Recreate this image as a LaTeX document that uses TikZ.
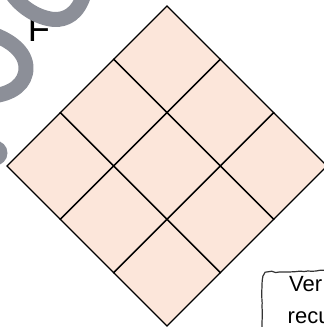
\documentclass[tikz,border=0pt]{standalone}
\usepackage{fontspec}
\setmainfont{Liberation Sans}
\usetikzlibrary{decorations.pathmorphing}
\definecolor{peach}{RGB}{252,230,218}
\definecolor{scribblegray}{RGB}{140,143,152}
\begin{document}
\begin{tikzpicture}[x=1pt,y=-1pt,
  cell/.style={fill=peach,draw=black,line width=1.4pt,line join=miter},
  scribble/.style={draw=scribblegray,line width=15pt,line cap=round,line join=round},
  sketchbox/.style={draw=black!80,line width=1.2pt,decorate,decoration={random steps,segment length=4pt,amplitude=0.4pt}},
  boxtext/.style={font=\fontsize{22}{26}\selectfont,inner sep=0pt,anchor=base west}]
\useasboundingbox (0,0) rectangle (324,327);
\clip (0,0) rectangle (324,327);
% grid of diamond cells
\foreach \i in {0,1,2}{
  \foreach \j in {0,1,2}{
    \path[cell,shift={({167+(\j-\i)*53.333},{6+(\i+\j)*53.333})}]
      (0,0) -- (-53.333,53.333) -- (0,106.667) -- (53.333,53.333) -- cycle;
  }
}
% partial letter under the scribble
\node[inner sep=0pt,anchor=base west,font=\fontsize{36}{36}\selectfont] (ftext) at (27.6,41.5) {F};
% gray scribbles
\path[scribble] (12,-6) .. controls (22,8) and (38,18) .. (54,19.5)
  .. controls (66,20) and (78,14) .. (84,-6);
\path[scribble] (-8,34) .. controls (10,40) and (26,52) .. (26,68)
  .. controls (26,84) and (12,94) .. (-8,96);
\fill[scribblegray] (-5,153) circle (12.5);
% sketchy note box
\path[sketchbox] (262,335) -- (262,284) .. controls (262,275) and (264,273) .. (272,272.5) -- (335,270);
\node[boxtext] (line1) at (289,291.5) {Ver};
\node[boxtext] (line2) at (287.5,323.3) {recu};
\end{tikzpicture}
\end{document}
